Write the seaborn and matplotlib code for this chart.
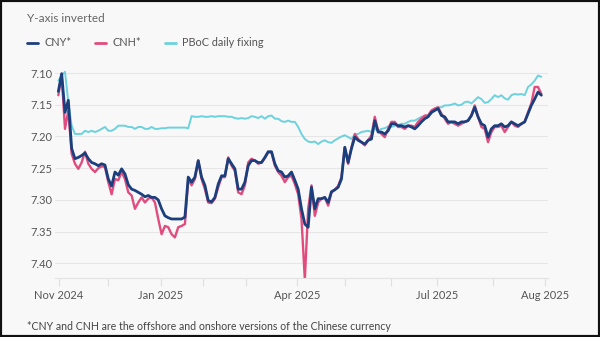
import numpy as np
import pandas as pd
import matplotlib
matplotlib.use("Agg")
import matplotlib.pyplot as plt
from matplotlib.lines import Line2D
from matplotlib.patches import Rectangle
import seaborn as sns

# ---- data (trading-day index, rates) ----
cny = [7.129, 7.101, 7.162, 7.143, 7.219, 7.235, 7.233, 7.230, 7.226, 7.235,
       7.241, 7.243, 7.246, 7.243, 7.245, 7.267, 7.278, 7.256, 7.261, 7.251,
       7.259, 7.276, 7.283, 7.285, 7.288, 7.291, 7.295, 7.293, 7.296, 7.296,
       7.300, 7.314, 7.325, 7.328, 7.330, 7.330, 7.330, 7.330, 7.327, 7.264,
       7.272, 7.264, 7.238, 7.264, 7.277, 7.301, 7.303, 7.296, 7.275, 7.262,
       7.262, 7.235, 7.243, 7.251, 7.283, 7.283, 7.272, 7.246, 7.238, 7.238,
       7.241, 7.241, 7.233, 7.224, 7.224, 7.243, 7.254, 7.256, 7.264, 7.262,
       7.256, 7.269, 7.283, 7.314, 7.338, 7.343, 7.280, 7.314, 7.298, 7.298,
       7.296, 7.304, 7.287, 7.284, 7.280, 7.267, 7.217, 7.241, 7.219, 7.201,
       7.206, 7.209, 7.212, 7.206, 7.204, 7.175, 7.193, 7.193, 7.196, 7.191,
       7.180, 7.180, 7.183, 7.183, 7.185, 7.183, 7.185, 7.188, 7.183, 7.177,
       7.172, 7.169, 7.162, 7.159, 7.156, 7.167, 7.169, 7.177, 7.177, 7.177,
       7.180, 7.177, 7.177, 7.175, 7.167, 7.154, 7.169, 7.180, 7.183, 7.201,
       7.188, 7.183, 7.183, 7.180, 7.185, 7.183, 7.177, 7.180, 7.183, 7.180,
       7.177, 7.164, 7.151, 7.141, 7.130, 7.135]

cnh = [7.135, 7.103, 7.188, 7.159, 7.227, 7.243, 7.251, 7.241, 7.224, 7.243,
       7.251, 7.256, 7.250, 7.247, 7.248, 7.272, 7.291, 7.267, 7.269, 7.256,
       7.267, 7.288, 7.293, 7.314, 7.304, 7.296, 7.304, 7.298, 7.296, 7.304,
       7.330, 7.354, 7.341, 7.343, 7.354, 7.359, 7.343, 7.341, 7.338, 7.267,
       7.277, 7.267, 7.238, 7.267, 7.283, 7.304, 7.305, 7.298, 7.280, 7.264,
       7.264, 7.233, 7.246, 7.254, 7.288, 7.291, 7.277, 7.241, 7.235, 7.238,
       7.243, 7.241, 7.234, 7.225, 7.225, 7.246, 7.256, 7.262, 7.272, 7.264,
       7.262, 7.275, 7.291, 7.330, 7.425, 7.314, 7.277, 7.325, 7.304, 7.298,
       7.296, 7.309, 7.288, 7.284, 7.278, 7.264, 7.217, 7.243, 7.217, 7.196,
       7.204, 7.209, 7.214, 7.206, 7.198, 7.169, 7.191, 7.196, 7.201, 7.188,
       7.177, 7.177, 7.185, 7.185, 7.188, 7.183, 7.183, 7.185, 7.177, 7.172,
       7.167, 7.167, 7.159, 7.156, 7.154, 7.164, 7.172, 7.180, 7.177, 7.180,
       7.183, 7.180, 7.177, 7.175, 7.167, 7.151, 7.169, 7.185, 7.188, 7.209,
       7.193, 7.185, 7.185, 7.183, 7.193, 7.185, 7.177, 7.183, 7.185, 7.180,
       7.177, 7.162, 7.148, 7.122, 7.122, 7.133]

pboc = [7.112, 7.104, 7.098, 7.146, 7.183, 7.196, 7.196, 7.196, 7.191, 7.193,
        7.191, 7.193, 7.191, 7.188, 7.185, 7.191, 7.191, 7.188, 7.183, 7.183,
        7.183, 7.185, 7.185, 7.188, 7.185, 7.185, 7.188, 7.188, 7.185, 7.188,
        7.188, 7.187, 7.187, 7.186, 7.186, 7.186, 7.186, 7.186, 7.186, 7.187,
        7.168, 7.169, 7.169, 7.168, 7.169, 7.169, 7.168, 7.169, 7.168, 7.168,
        7.168, 7.169, 7.169, 7.171, 7.172, 7.171, 7.172, 7.171, 7.168, 7.169,
        7.171, 7.168, 7.172, 7.168, 7.167, 7.172, 7.172, 7.176, 7.177, 7.175,
        7.177, 7.177, 7.185, 7.196, 7.204, 7.208, 7.209, 7.208, 7.212, 7.208,
        7.206, 7.209, 7.210, 7.206, 7.203, 7.200, 7.198, 7.201, 7.204, 7.197,
        7.196, 7.193, 7.192, 7.191, 7.193, 7.188, 7.191, 7.188, 7.187, 7.184,
        7.185, 7.183, 7.182, 7.180, 7.180, 7.177, 7.175, 7.175, 7.172, 7.169,
        7.168, 7.167, 7.164, 7.156, 7.154, 7.154, 7.151, 7.151, 7.150, 7.148,
        7.151, 7.150, 7.146, 7.145, 7.148, 7.143, 7.138, 7.141, 7.147, 7.146,
        7.141, 7.135, 7.138, 7.135, 7.140, 7.142, 7.135, 7.133, 7.134, 7.133,
        7.135, 7.122, 7.118, 7.112, 7.104, 7.106]

days = list(range(1, len(cny) + 1))

tick_pos = [1.2, 15.9, 31.8, 44.4, 57.3, 72.6, 87.0, 100.8, 114.6, 131.4, 147.0]
tick_labels = ["Nov 2024", "", "Jan 2025", "", "", "Apr 2025", "", "",
               "Jul 2025", "", "Aug 2025"]
y_ticks = [7.10, 7.15, 7.20, 7.25, 7.30, 7.35, 7.40]

series_names = ["CNY*", "CNH*", "PBoC daily fixing"]
colors = {"CNY*": "#1b3f7d", "CNH*": "#e04c7e", "PBoC daily fixing": "#6cd2de"}

df = pd.DataFrame({
    "day": days * 3,
    "rate": cny + cnh + pboc,
    "series": ["CNY*"] * len(cny) + ["CNH*"] * len(cnh) + ["PBoC daily fixing"] * len(pboc),
})

# ---- figure ----
sns.set_theme(style="white")
plt.rcParams["font.family"] = ["Lato", "DejaVu Sans"]
bg = "#f8f8f8"
fig = plt.figure(figsize=(6.0, 3.37), dpi=100, facecolor=bg)
ax = fig.add_axes([55 / 600, 1 - 278 / 337, (548 - 55) / 600, (278 - 63.5) / 337])
ax.set_facecolor(bg)

widths = {"PBoC daily fixing": 1.4, "CNH*": 1.7, "CNY*": 2.0}
for name in ["PBoC daily fixing", "CNH*", "CNY*"]:
    sns.lineplot(data=df[df["series"] == name], x="day", y="rate", ax=ax,
                 color=colors[name], linewidth=widths[name], legend=False,
                 estimator=None, sort=False)

ax.set_xlim(0, 148)
ax.set_ylim(7.423, 7.085)
ax.set_yticks(y_ticks)
ax.set_yticklabels([f"{v:.2f}" for v in y_ticks])
ax.set_xticks(tick_pos)
ax.set_xticklabels(tick_labels)
ax.set_xlabel("")
ax.set_ylabel("")
ax.grid(axis="y", color="#e6e6e6", linewidth=0.8)
ax.grid(axis="x", visible=False)
for s in ["left", "right", "top"]:
    ax.spines[s].set_visible(False)
ax.spines["bottom"].set_color("#e3e3e3")
ax.spines["bottom"].set_linewidth(0.8)
ax.tick_params(axis="x", length=5.5, width=0.8, color="#e0e0e0", pad=3,
               labelsize=8, labelcolor="#555555", bottom=True)
ax.tick_params(axis="y", length=0, pad=2, labelsize=8, labelcolor="#555555")

# title / subtitle
fig.text(27 / 600, 1 - 19 / 337, "Y-axis inverted", fontsize=8.5, color="#666666",
         va="center", ha="left")

# legend
handles = [Line2D([0], [0], color=colors[n], linewidth=2.0) for n in series_names]
leg = fig.legend(handles, series_names, loc="center left",
                 bbox_to_anchor=(27 / 600, 1 - 43 / 337), ncol=3, frameon=False,
                 fontsize=7.8, handlelength=1.0, handletextpad=0.6,
                 columnspacing=2.2, borderpad=0, borderaxespad=0)
for t in leg.get_texts():
    t.set_color("#555555")

# footnote
fig.text(27 / 600, 1 - 326 / 337,
         "*CNY and CNH are the offshore and onshore versions of the Chinese currency",
         fontsize=7.6, color="#444444", va="center", ha="left")

# frame border
fig.patches.append(Rectangle((0, 0), 1, 1, transform=fig.transFigure,
                             fill=False, edgecolor="#111111", linewidth=3.0))

fig.savefig("out.png", dpi=100, facecolor=bg)
